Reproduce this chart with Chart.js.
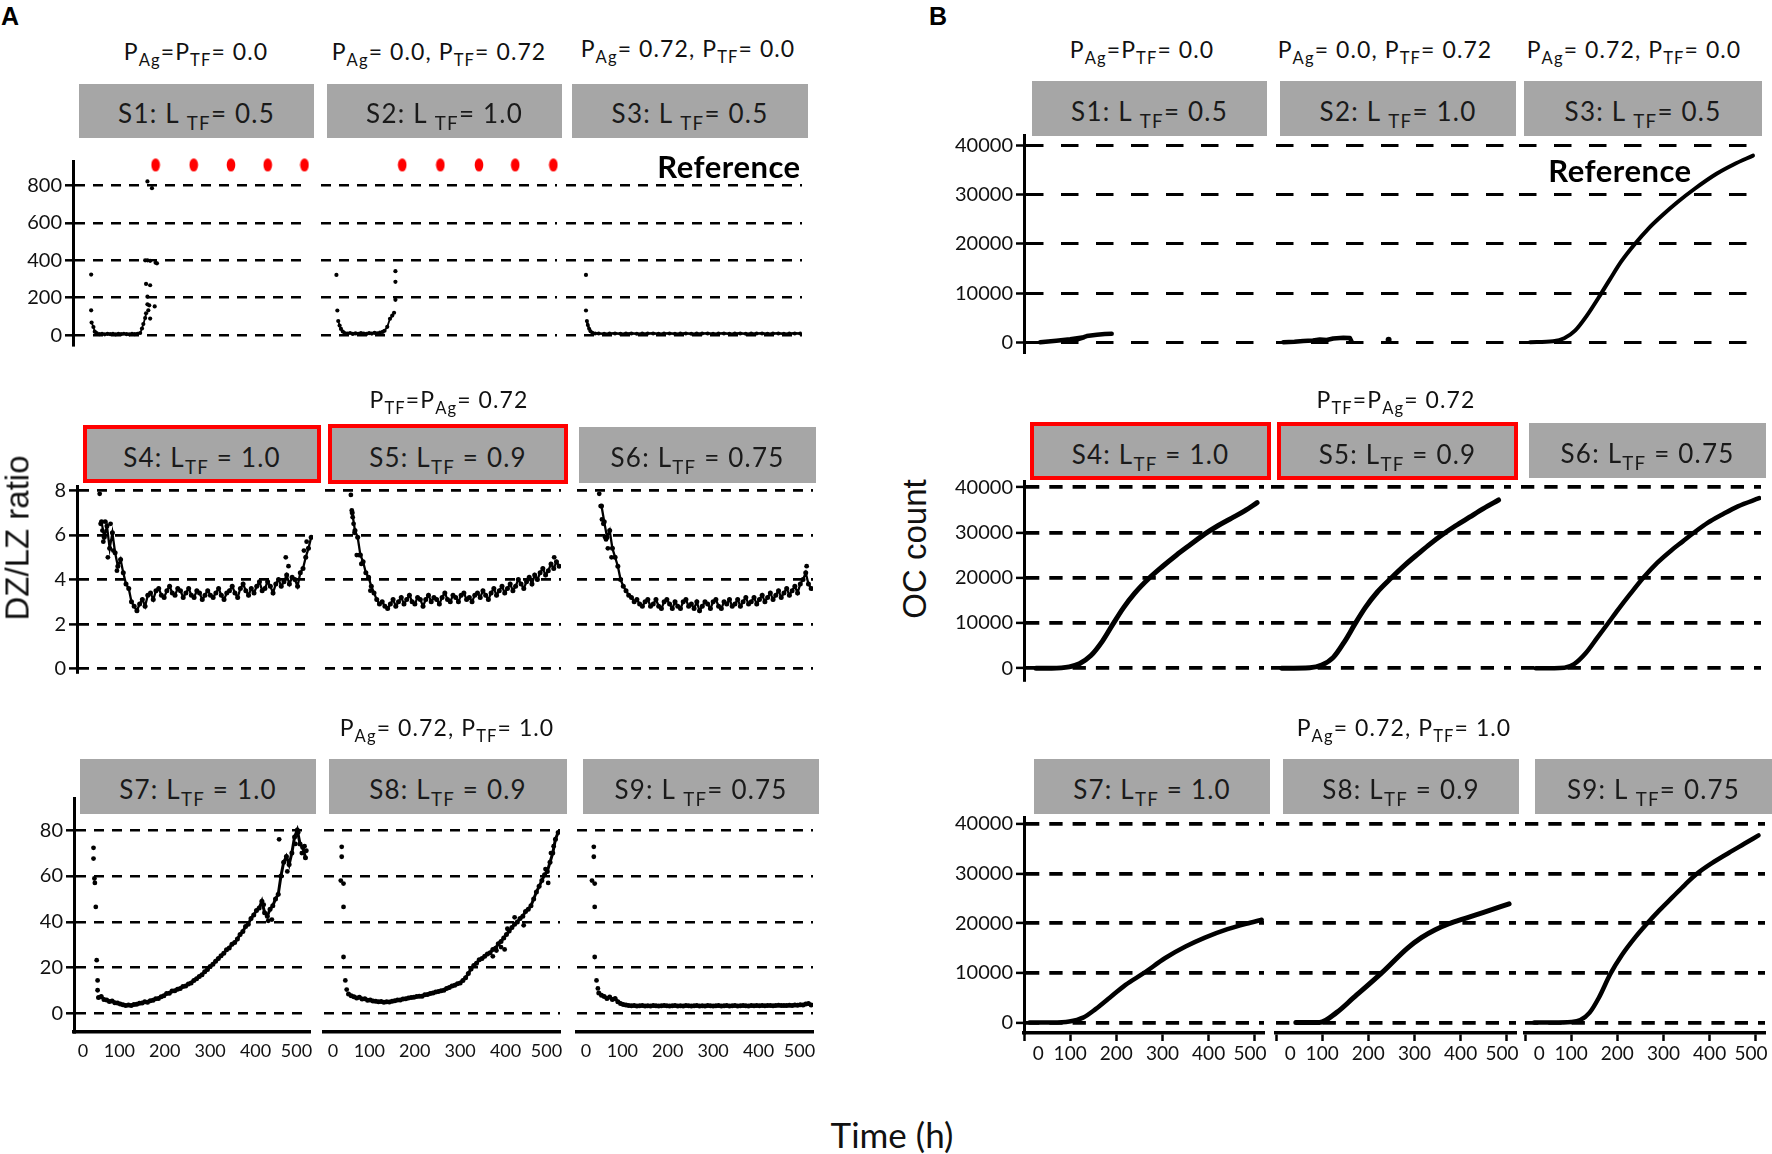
<!DOCTYPE html>
<html>
<head>
<meta charset="utf-8">
<title>DZ/LZ ratio and OC count over time</title>
<script src="https://cdn.jsdelivr.net/npm/chart.js@4.4.1/dist/chart.umd.min.js"></script>
<style>
html,body{margin:0;padding:0;background:#fff;}
body{position:relative;width:1772px;height:1154px;overflow:hidden;font-family:Lato,"Open Sans",sans-serif;color:#111;}
.t{position:absolute;white-space:nowrap;line-height:1;transform:translateX(-50%);}
.t sub,.box sub{font-size:0.72em;vertical-align:-0.36em;line-height:0;}
.box{position:absolute;box-sizing:border-box;background:#a6a6a6;}
.box.red{border:4px solid #ff0000;}
.box span{position:absolute;left:50%;transform:translateX(-50%);white-space:nowrap;line-height:1;font-size:26px;letter-spacing:1.2px;color:#1a1a1a;}
.rot{position:absolute;white-space:nowrap;line-height:1;font-family:"Liberation Sans",Arial,sans-serif;transform:translate(-50%,-50%) rotate(-90deg);color:#111;}
.lab{position:absolute;line-height:1;font-family:"Liberation Sans",Arial,sans-serif;font-weight:bold;font-size:25px;color:#000;}
.plot{position:absolute;}
</style>
</head>
<body>
<script>
// ---------------- tick labels ----------------
const ratioTicksRow1 = [0, 200, 400, 600, 800];
const ratioTicksRow2 = [0, 2, 4, 6, 8];
const ratioTicksRow3 = [0, 20, 40, 60, 80];
const ocTicks = [0, 10000, 20000, 30000, 40000];
const timeTicks = [0, 100, 200, 300, 400, 500];

// ---------------- Panel A: DZ/LZ ratio ----------------
// S1 (P_Ag = P_TF = 0.0, L_TF = 0.5)
const s1TraceT = [41, 45, 48, 52, 58, 64, 70, 76, 82, 88, 94, 100, 106, 112, 118, 124, 130, 136, 142, 148, 152, 155, 159, 161];
const s1TraceV = [68, 44, 19, 11, 6, 8, 5, 7, 6, 8, 5, 7, 6, 8, 6, 5, 7, 6, 8, 12, 36, 60, 92, 117];
const s1DotT = [40, 40, 164, 166, 168, 170, 180, 164, 161, 170, 159, 164, 170, 182, 185, 164, 174];
const s1DotV = [324, 133, 165, 133, 160, 89, 154, 206, 274, 267, 400, 400, 397, 387, 384, 821, 785];
const s1ExtinctT = [182, 266, 348, 429, 510];
const s1ExtinctV = [909, 909, 909, 909, 909];
// S2 (P_Ag = 0.0, P_TF = 0.72, L_TF = 1.0)
const s2TraceT = [38, 41, 44, 48, 52, 58, 64, 70, 76, 82, 88, 94, 100, 106, 112, 118, 124, 130, 136, 140, 146, 152, 157, 161];
const s2TraceV = [76, 52, 34, 20, 12, 9, 12, 7, 10, 8, 12, 9, 7, 11, 9, 13, 10, 14, 18, 24, 45, 88, 105, 120];
const s2DotT = [34, 36, 164, 164, 164];
const s2DotV = [322, 132, 189, 285, 342];
const s2ExtinctT = [179, 263, 348, 428, 512];
const s2ExtinctV = [909, 909, 909, 909, 909];
// S3 reference (P_Ag = 0.72, P_TF = 0.0, L_TF = 0.5)
const s3TraceT = [46, 48, 51, 54, 58, 64, 72, 84, 96, 108, 120, 132, 144, 156, 168, 180, 192, 204, 216, 228, 240, 252, 264, 276, 288, 300, 312, 324, 336, 348, 360, 372, 384, 396, 408, 420, 432, 444, 456, 468, 480, 492, 504, 516];
const s3TraceV = [76, 55, 35, 22, 14, 10, 9, 8, 9, 10, 8, 9, 10, 8, 9, 9, 10, 8, 9, 10, 8, 9, 10, 8, 9, 9, 10, 8, 9, 10, 8, 9, 10, 8, 9, 9, 10, 8, 9, 10, 8, 9, 10, 9];
const s3DotT = [44, 44];
const s3DotV = [322, 132];

// common sampling times (h) for S4..S9
const timeA = [48, 54, 60, 66, 72, 78, 84, 90, 96, 102,
  108, 114, 120, 126, 132, 138, 144, 150, 156, 162,
  168, 174, 180, 186, 192, 198, 204, 210, 216, 222,
  228, 234, 240, 246, 252, 258, 264, 270, 276, 282,
  288, 294, 300, 306, 312, 318, 324, 330, 336, 342,
  348, 354, 360, 366, 372, 378, 384, 390, 396, 402,
  408, 414, 420, 426, 432, 438, 444, 450, 456, 462,
  468, 474, 480, 486, 492, 498, 504, 510, 516];

const s4Ratio = [null, 6.6, 5.9, 6.4, 5.4, 6.1, 5.2, 4.6, 4.9, 4.3,
  3.8, 3.6, 3.0, 2.8, 2.6, 2.9, 3.1, 2.8, 3.3, 3.4,
  3.1, 3.5, 3.6, 3.3, 3.2, 3.5, 3.7, 3.4, 3.3, 3.6,
  3.5, 3.2, 3.4, 3.6, 3.3, 3.2, 3.5, 3.4, 3.1, 3.3,
  3.5, 3.3, 3.2, 3.4, 3.6, 3.3, 3.1, 3.4, 3.5, 3.7,
  3.4, 3.2, 3.6, 3.8, 3.5, 3.3, 3.6, 3.4, 3.7, 3.9,
  3.5, 3.6, 3.9, 3.7, 3.4, 3.8, 4.0, 3.7, 3.9, 4.2,
  3.8, 4.1, 4.0, 3.7, 4.3, 4.5, 5.0, 5.4, 5.9];
const s4HeadT = [50, 52, 56, 58, 62, 68, 74, 80, 88, 460, 466, 500, 506];
const s4HeadV = [7.85, 6.5, 6.2, 5.7, 6.6, 5.0, 6.5, 5.3, 4.4, 5.0, 4.6, 5.3, 5.7];

const s5Ratio = [null, null, 7.0, 6.2, 5.9, 5.1, 4.8, 4.3, 4.1, 3.7,
  3.4, 3.1, 2.9, 3.0, 2.8, 2.7, 2.9, 3.1, 2.8, 3.0,
  3.2, 2.9, 3.1, 3.3, 3.0, 2.9, 3.2, 3.1, 2.8, 3.1,
  3.3, 3.0, 3.2, 3.1, 2.9, 3.2, 3.4, 3.1, 3.0, 3.3,
  3.2, 3.0, 3.3, 3.4, 3.1, 3.2, 3.0, 3.3, 3.4, 3.2,
  3.5, 3.3, 3.1, 3.4, 3.6, 3.3, 3.5, 3.7, 3.4, 3.6,
  3.8, 3.5, 3.7, 4.0, 3.8, 3.6, 3.9, 4.1, 3.8, 4.2,
  4.0, 4.3, 4.5, 4.2, 4.4, 4.7, 4.5, 4.8, 4.6];
const s5HeadT = [57, 59, 61, 63, 65, 70, 75, 80, 100, 505];
const s5HeadV = [7.8, 7.1, 6.8, 6.5, 6.1, 5.1, 5.1, 4.7, 3.5, 5.0];

const s6Ratio = [null, 7.3, 6.6, 5.9, 6.2, 5.4, 5.0, 4.6, 4.0, 3.7,
  3.5, 3.3, 3.2, 3.0, 3.1, 2.9, 2.8, 3.0, 3.1, 2.8,
  2.9, 3.1, 2.8, 2.7, 3.0, 3.1, 2.9, 2.7, 3.0, 2.8,
  2.7, 3.0, 3.1, 2.8, 2.9, 2.7, 3.0, 2.6, 2.8, 3.0,
  2.9, 2.7, 3.0, 3.1, 2.8, 2.7, 3.0, 2.9, 3.1, 2.8,
  2.9, 3.1, 2.8, 3.0, 3.2, 2.9, 3.0, 3.2, 2.9, 3.1,
  3.3, 3.0, 3.2, 3.4, 3.1, 3.3, 3.5, 3.2, 3.4, 3.6,
  3.3, 3.5, 3.7, 3.4, 3.8, 4.0, 4.3, 3.8, 3.6];
const s6HeadT = [49, 52, 55, 58, 62, 64, 68, 76, 506];
const s6HeadV = [7.85, 7.3, 6.7, 6.5, 5.9, 5.8, 5.4, 5.0, 4.6];

const s7Ratio = [null, 7.0, 7.5, 6.2, 6.0, 5.3, 5.5, 4.8, 4.6, 4.2,
  3.9, 3.6, 3.8, 3.6, 4.0, 4.1, 4.5, 4.6, 5.2, 5.0,
  5.6, 5.8, 6.5, 6.6, 7.4, 7.8, 8.8, 8.9, 9.9, 10.0,
  10.6, 11.0, 11.8, 12.0, 12.9, 13.4, 14.5, 15.2, 16.2, 17.0,
  18.3, 19.2, 20.6, 21.5, 22.8, 24.0, 25.2, 26.3, 27.8, 28.6,
  30.2, 31.0, 32.5, 34.5, 35.8, 38.0, 39.0, 41.5, 43.0, 45.0,
  46.0, 49.0, 44.0, 42.5, 45.5, 47.0, 50.0, 52.0, 60.0, 66.0,
  68.5, 65.0, 70.0, 77.0, 80.0, 74.0, 72.5, 68.0, null];
const s7HeadT = [43, 43, 45, 46, 48, 50, 52, 52, 452, 470, 488, 494, 502, 508, 512, 418, 428, 436];
const s7HeadV = [72.3, 67.6, 58.9, 57.0, 46.5, 23.3, 14.5, 10.2, 76, 62, 74, 79, 70, 73, 71, 47.5, 40.5, 41];

const s8Ratio = [null, 8.6, 7.8, 7.4, 6.8, 7.2, 6.4, 6.5, 5.8, 6.0,
  5.5, 5.4, 5.2, 5.3, 5.0, 5.2, 5.1, 5.4, 5.6, 5.9,
  6.0, 6.4, 6.5, 6.8, 7.0, 7.1, 7.5, 7.6, 7.6, 8.2,
  8.3, 8.8, 9.0, 9.4, 9.6, 10.0, 10.2, 11.0, 11.4, 12.0,
  12.4, 13.0, 13.4, 14.5, 15.6, 17.5, 19.5, 21.0, 22.0, 23.5,
  24.0, 25.0, 26.0, 26.5, 28.0, 28.5, 30.5, 31.5, 33.0, 34.5,
  36.0, 37.5, 39.0, 40.0, 41.5, 42.5, 44.5, 45.5, 47.0, 50.0,
  53.0, 55.5, 58.0, 60.5, 62.0, 66.0, 70.0, 76.0, 79.0];
const s8HeadT = [39, 39, 37, 43, 43, 43, 47, 50, 372, 380, 390, 398, 404, 420, 440, 488, 494, 500, 506];
const s8HeadV = [72.7, 68.4, 58, 56.7, 46.5, 24.7, 14.5, 10.5, 25, 27.5, 29, 28, 37, 42, 38.5, 63, 57, 70, 73];

const s9Ratio = [9.0, 8.0, 7.5, 6.6, 7.3, 6.2, 6.6, 5.2, 4.4, 4.0,
  3.8, 3.6, 3.4, 3.5, 3.3, 3.4, 3.5, 3.3, 3.4, 3.3,
  3.5, 3.4, 3.3, 3.4, 3.6, 3.4, 3.3, 3.4, 3.5, 3.3,
  3.4, 3.3, 3.5, 3.4, 3.3, 3.4, 3.5, 3.3, 3.4, 3.3,
  3.5, 3.4, 3.3, 3.4, 3.5, 3.3, 3.4, 3.5, 3.3, 3.4,
  3.5, 3.3, 3.4, 3.5, 3.4, 3.3, 3.5, 3.4, 3.5, 3.4,
  3.6, 3.4, 3.5, 3.6, 3.4, 3.5, 3.7, 3.5, 3.6, 3.5,
  3.7, 3.6, 3.8, 3.7, 3.9, 3.8, 4.2, 4.4, 3.8];
const s9HeadT = [37, 37, 33, 39, 39, 39, 43, 46];
const s9HeadV = [72.7, 68.4, 58, 56.7, 46.5, 24.7, 14.5, 11];

// ---------------- Panel B: OC count ----------------
const s1OcT = [35, 70, 100, 130, 100, 136, 158, 175, 190];
const s1OcV = [0, 300, 600, 1000, 100, 1250, 1500, 1650, 1700];
const s2OcT = [16, 40, 59, 80, 95, 110, 124, 146, 160, 164];
const s2OcV = [0, 80, 250, 350, 550, 450, 750, 900, 850, 100];
const s2OcDotT = [244];
const s2OcDotV = [500];
const s3OcT = [24, 74, 98, 122, 147, 172, 197, 222, 251, 280, 310, 343, 380, 428, 465, 507];
const s3OcV = [0, 200, 800, 2400, 5400, 9000, 12800, 16500, 20000, 23100, 25800, 28500, 31200, 34300, 36200, 38000];
const s4OcT = [26, 60, 98, 120, 145, 170, 193, 215, 240, 272, 300, 330, 360, 392, 420, 450, 478, 505];
const s4OcV = [0, 0, 300, 1000, 2800, 6000, 9800, 13300, 16600, 20000, 22500, 25000, 27300, 29700, 31500, 33200, 34800, 36600];
const s5OcT = [23, 84, 110, 135, 160, 182, 205, 230, 261, 290, 320, 345, 371, 400, 430, 460, 493];
const s5OcV = [0, 100, 700, 2400, 6000, 9800, 13500, 16800, 20000, 22800, 25400, 27500, 29500, 31500, 33400, 35300, 37200];
const s6OcT = [32, 94, 115, 140, 165, 189, 210, 235, 265, 295, 325, 350, 375, 405, 436, 470, 516];
const s6OcV = [0, 130, 900, 3300, 6700, 10000, 12900, 16200, 20000, 23300, 26000, 28000, 30000, 32200, 34000, 35800, 37600];
const s7OcT = [12, 60, 98, 128, 155, 187, 220, 260, 306, 350, 392, 441, 490, 515];
const s7OcV = [0, 0, 200, 1000, 2700, 5100, 7600, 10000, 13000, 15300, 17100, 18800, 20100, 20700];
const s8OcT = [43, 94, 131, 168, 229, 285, 315, 345, 375, 410, 450, 505];
const s8OcV = [0, 0, 2000, 5000, 10000, 15000, 17100, 18700, 19900, 21000, 22200, 23900];
const s9OcT = [20, 60, 100, 120, 140, 160, 185, 210, 240, 265, 292, 319, 346, 373, 405, 442, 475, 506];
const s9OcV = [0, 0, 100, 500, 2000, 5000, 9800, 13600, 17300, 20000, 22700, 25200, 27700, 30000, 32100, 34200, 36000, 37700];

// ---------------- helpers ----------------
Chart.defaults.font.family = 'Lato';
Chart.defaults.color = '#111';

const pts = (xs, ys) => xs.map((x, i) => ({x: x, y: ys[i]}));
function traceDs(xs, ys, w, r) {
  return {data: pts(xs, ys), showLine: true, borderColor: '#000', backgroundColor: '#000',
    borderWidth: w || 2, pointRadius: r || 2.2, pointBorderWidth: 0, spanGaps: false};
}
function dotDs(xs, ys, r) {
  return {data: pts(xs, ys), showLine: false, borderColor: '#000', backgroundColor: '#000',
    pointRadius: r || 2.4, pointBorderWidth: 0};
}
const redMark = document.createElement('canvas');
redMark.width = 10; redMark.height = 15;
(function () {
  const c = redMark.getContext('2d');
  c.fillStyle = '#ff0000';
  c.beginPath(); c.ellipse(5, 7.5, 4.3, 6.6, 0, 0, Math.PI * 2); c.fill();
})();
function redDs(xs, ys) {
  return {data: pts(xs, ys), showLine: false, pointStyle: redMark, pointRadius: 7, clip: false};
}
function curveDs(xs, ys, w, smooth) {
  return {data: pts(xs, ys), showLine: true, borderColor: '#000', backgroundColor: '#000',
    borderWidth: w, pointRadius: 0, cubicInterpolationMode: smooth ? 'monotone' : 'default',
    tension: smooth ? 0.4 : 0, borderCapStyle: 'round', borderJoinStyle: 'round'};
}

function makePlot(p) {
  const L = 70, R = 24, T = 18;
  const hasX = !!p.xTicks;
  const B = hasX ? 46 : 18;
  const W = Math.round(p.w + L + R), H = Math.round(p.h + T + B);
  const holder = document.createElement('div');
  holder.className = 'plot';
  holder.style.cssText = `left:${p.x - L}px;top:${p.y - T}px;width:${W}px;height:${H}px;`;
  const cv = document.createElement('canvas');
  cv.width = W; cv.height = H;
  cv.style.width = W + 'px'; cv.style.height = H + 'px';
  holder.appendChild(cv);
  document.body.appendChild(holder);
  new Chart(cv, {
    type: 'scatter',
    data: {datasets: p.datasets},
    options: {
      responsive: false, animation: false, events: [],
      layout: {padding: {left: 0, right: R, top: T, bottom: hasX ? 0 : B}},
      plugins: {legend: {display: false}, tooltip: {enabled: false}},
      scales: {
        x: {
          type: 'linear', min: 0, max: 520, display: hasX,
          afterBuildTicks: s => { if (hasX) s.ticks = p.xTicks.map(v => ({value: v})); },
          afterFit: s => { s.height = B; },
          grid: {drawOnChartArea: false, drawTicks: !!p.xTickMarks, tickLength: 8, tickWidth: 2.5, tickColor: '#000', color: '#000'},
          border: {display: true, width: 3.5, color: '#000'},
          ticks: {font: {size: p.xFontSize}, color: '#111', padding: p.xTickMarks ? 1 : 8,
            maxRotation: 0, autoSkip: false,
            callback: v => (v === 0 ? p.zeroPad : '') + String(v) + (v === 500 ? p.endPad : '')}
        },
        y: {
          type: 'linear', min: p.yMin, max: p.yMax,
          afterBuildTicks: s => { s.ticks = p.yTicks.map(v => ({value: v})); },
          afterFit: s => { s.width = L; },
          grid: {color: '#000', lineWidth: p.gw, drawTicks: p.first, tickLength: 8, tickWidth: 2.5, tickColor: '#000'},
          border: {display: p.first, width: 3, color: '#000', dash: p.dash},
          ticks: {display: p.first, font: {size: 20}, color: '#111', padding: 3, callback: v => String(v)}
        }
      }
    }
  });
}

function addText(html, cx, base, size, extra) {
  const d = document.createElement('div');
  d.className = 't';
  d.innerHTML = html;
  d.style.left = cx + 'px';
  d.style.top = (base - 0.887 * size) + 'px';
  d.style.fontSize = size + 'px';
  if (extra) d.style.cssText += extra;
  document.body.appendChild(d);
}
function addBox(html, x1, x2, y1, y2, red) {
  const b = document.createElement('div');
  b.className = 'box' + (red ? ' red' : '');
  b.style.left = x1 + 'px'; b.style.top = y1 + 'px';
  b.style.width = (x2 - x1) + 'px'; b.style.height = (y2 - y1) + 'px';
  const s = document.createElement('span');
  s.innerHTML = html;
  const base = (y2 - y1) * 0.72 - (red ? 4 : 0);
  s.style.top = (base - 0.887 * 26) + 'px';
  b.appendChild(s);
  document.body.appendChild(b);
}

// ---------------- plots ----------------
const A1 = {y: 161, h: 202, yMin: -52, yMax: 930, yTicks: ratioTicksRow1, gw: 2.6, dash: [10, 8], w: 236};
const A2 = {y: 485.8, h: 203.6, yMin: -0.15, yMax: 8.2, yTicks: ratioTicksRow2, gw: 2.8, dash: [10, 8], w: 236};
const A3 = {y: 798, h: 233.6, yMin: -8, yMax: 94, yTicks: ratioTicksRow3, gw: 2.6, dash: [10, 8], w: 236,
  xTicks: timeTicks, xFontSize: 18, zeroPad: '\u2002\u2002', endPad: '\u2002'};
const B1 = {y: 135, h: 234.9, yMin: -2000, yMax: 42200, yTicks: ocTicks, gw: 3, dash: [17.5, 17.5], w: 240};
const B2 = {y: 481, h: 216.7, yMin: -2600, yMax: 41400, yTicks: ocTicks, gw: 3.8, dash: [13.3, 10], w: 240};
const B3 = {y: 817, h: 216.4, yMin: -2100, yMax: 41400, yTicks: ocTicks, gw: 3.8, dash: [13.3, 10], w: 240,
  xTicks: timeTicks, xFontSize: 19, xTickMarks: true, zeroPad: '\u2002\u2002\u2002', endPad: '\u2002'};

// Panel A, row 1
makePlot(Object.assign({}, A1, {x: 73, first: true, datasets: [
  redDs(s1ExtinctT, s1ExtinctV), traceDs(s1TraceT, s1TraceV, 1.8, 2.1), dotDs(s1DotT, s1DotV, 2.1)]}));
makePlot(Object.assign({}, A1, {x: 321, first: false, datasets: [
  redDs(s2ExtinctT, s2ExtinctV), traceDs(s2TraceT, s2TraceV, 1.8, 2.1), dotDs(s2DotT, s2DotV, 2.1)]}));
makePlot(Object.assign({}, A1, {x: 566, first: false, datasets: [
  traceDs(s3TraceT, s3TraceV, 2.6, 2), dotDs(s3DotT, s3DotV, 2.1)]}));
// Panel A, row 2
makePlot(Object.assign({}, A2, {x: 77.3, first: true, datasets: [
  traceDs(timeA, s4Ratio, 2.3, 2.5), dotDs(s4HeadT, s4HeadV)]}));
makePlot(Object.assign({}, A2, {x: 325.3, first: false, datasets: [
  traceDs(timeA, s5Ratio, 2.3, 2.5), dotDs(s5HeadT, s5HeadV)]}));
makePlot(Object.assign({}, A2, {x: 577.3, first: false, datasets: [
  traceDs(timeA, s6Ratio, 2.3, 2.5), dotDs(s6HeadT, s6HeadV)]}));
// Panel A, row 3
makePlot(Object.assign({}, A3, {x: 74, first: true, datasets: [
  traceDs(timeA, s7Ratio, 3, 2.5), dotDs(s7HeadT, s7HeadV)]}));
makePlot(Object.assign({}, A3, {x: 324, first: false, datasets: [
  traceDs(timeA, s8Ratio, 3, 2.5), dotDs(s8HeadT, s8HeadV)]}));
makePlot(Object.assign({}, A3, {x: 577, first: false, datasets: [
  traceDs(timeA, s9Ratio, 3, 2.5), dotDs(s9HeadT, s9HeadV)]}));

// Panel B, row 1
makePlot(Object.assign({}, B1, {x: 1023.7, first: true, datasets: [curveDs(s1OcT, s1OcV, 4.5, false)]}));
makePlot(Object.assign({}, B1, {x: 1276, first: false, datasets: [
  curveDs(s2OcT, s2OcV, 4.5, false), dotDs(s2OcDotT, s2OcDotV, 3)]}));
makePlot(Object.assign({}, B1, {x: 1518.7, first: false, datasets: [curveDs(s3OcT, s3OcV, 4, true)]}));
// Panel B, row 2
makePlot(Object.assign({}, B2, {x: 1023.7, first: true, datasets: [curveDs(s4OcT, s4OcV, 5, true)]}));
makePlot(Object.assign({}, B2, {x: 1271, first: false, datasets: [curveDs(s5OcT, s5OcV, 5, true)]}));
makePlot(Object.assign({}, B2, {x: 1520.7, first: false, datasets: [curveDs(s6OcT, s6OcV, 4.5, true)]}));
// Panel B, row 3
makePlot(Object.assign({}, B3, {x: 1023.7, first: true, datasets: [curveDs(s7OcT, s7OcV, 4.5, true)]}));
makePlot(Object.assign({}, B3, {x: 1276, first: false, datasets: [curveDs(s8OcT, s8OcV, 5, true)]}));
makePlot(Object.assign({}, B3, {x: 1525, first: false, datasets: [curveDs(s9OcT, s9OcV, 4.5, true)]}));

// ---------------- text: conditions, strips, labels ----------------
const ls = 'letter-spacing:1.1px;';
addText('P<sub>Ag</sub>=P<sub>TF</sub>= 0.0', 196, 60, 23, ls);
addText('P<sub>Ag</sub>= 0.0, P<sub>TF</sub>= 0.72', 439, 60, 23, ls);
addText('P<sub>Ag</sub>= 0.72, P<sub>TF</sub>= 0.0', 688, 57, 23, ls);
addText('P<sub>TF</sub>=P<sub>Ag</sub>= 0.72', 449, 408, 23, ls);
addText('P<sub>Ag</sub>= 0.72, P<sub>TF</sub>= 1.0', 447, 736, 23, ls);
addText('P<sub>Ag</sub>=P<sub>TF</sub>= 0.0', 1142, 58, 23, ls);
addText('P<sub>Ag</sub>= 0.0, P<sub>TF</sub>= 0.72', 1385, 58, 23, ls);
addText('P<sub>Ag</sub>= 0.72, P<sub>TF</sub>= 0.0', 1634, 58, 23, ls);
addText('P<sub>TF</sub>=P<sub>Ag</sub>= 0.72', 1396, 408, 23, ls);
addText('P<sub>Ag</sub>= 0.72, P<sub>TF</sub>= 1.0', 1404, 736, 23, ls);

addBox('S1: L <sub>TF</sub>= 0.5', 79, 314, 84, 138);
addBox('S2: L <sub>TF</sub>= 1.0', 327, 562, 84, 138);
addBox('S3: L <sub>TF</sub>= 0.5', 572, 808, 84, 138);
addBox('S4: L<sub>TF</sub> = 1.0', 83, 321, 425, 483, true);
addBox('S5: L<sub>TF</sub> = 0.9', 328, 568, 424, 484, true);
addBox('S6: L<sub>TF</sub> = 0.75', 579, 816, 427, 483);
addBox('S7: L<sub>TF</sub> = 1.0', 80, 316, 759, 814);
addBox('S8: L<sub>TF</sub> = 0.9', 329, 567, 759, 814);
addBox('S9: L <sub>TF</sub>= 0.75', 583, 819, 759, 814);

addBox('S1: L <sub>TF</sub>= 0.5', 1032, 1267, 81, 136);
addBox('S2: L <sub>TF</sub>= 1.0', 1280, 1516, 81, 136);
addBox('S3: L <sub>TF</sub>= 0.5', 1524, 1762, 81, 136);
addBox('S4: L<sub>TF</sub> = 1.0', 1030, 1271, 422, 480, true);
addBox('S5: L<sub>TF</sub> = 0.9', 1277, 1518, 422, 480, true);
addBox('S6: L<sub>TF</sub> = 0.75', 1529, 1766, 423, 478);
addBox('S7: L<sub>TF</sub> = 1.0', 1034, 1270, 759, 814);
addBox('S8: L<sub>TF</sub> = 0.9', 1283, 1519, 759, 814);
addBox('S9: L <sub>TF</sub>= 0.75', 1535, 1772, 759, 814);

addText('Reference', 729, 178.5, 31, 'font-weight:bold;letter-spacing:0.5px;color:#000;');
addText('Reference', 1620, 182, 31, 'font-weight:bold;letter-spacing:0.5px;color:#000;');
addText('Time (h)', 892, 1148, 35, 'color:#111;');

(function () {
  const a = document.createElement('div'); a.className = 'lab'; a.textContent = 'A';
  a.style.left = '1px'; a.style.top = '4px'; document.body.appendChild(a);
  const b = document.createElement('div'); b.className = 'lab'; b.textContent = 'B';
  b.style.left = '929px'; b.style.top = '4px'; document.body.appendChild(b);
  const y1 = document.createElement('div'); y1.className = 'rot'; y1.textContent = 'DZ/LZ ratio';
  y1.style.left = '17px'; y1.style.top = '538px'; y1.style.fontSize = '33px'; document.body.appendChild(y1);
  const y2 = document.createElement('div'); y2.className = 'rot'; y2.textContent = 'OC count';
  y2.style.left = '914px'; y2.style.top = '549px'; y2.style.fontSize = '33px'; document.body.appendChild(y2);
})();
</script>
</body>
</html>
